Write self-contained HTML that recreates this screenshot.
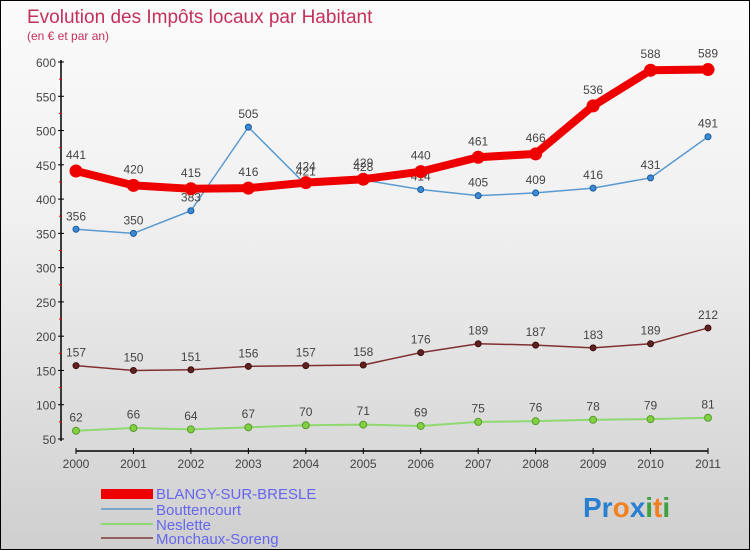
<!DOCTYPE html>
<html><head><meta charset="utf-8"><style>
body{margin:0;}
#c{width:748px;height:548px;border:1px solid #000;background:linear-gradient(#fbfbfb,#f0f0f0 40%,#cfcfcf);position:relative;overflow:hidden;font-family:"Liberation Sans",sans-serif;}
svg text{font-family:"Liberation Sans",sans-serif;}
</style></head><body>
<div id="c">
<svg id="s" width="748" height="548">
<text x="26" y="22" font-size="19" fill="#c4305a">Evolution des Impôts locaux par Habitant</text>
<text x="26" y="39" font-size="12" fill="#c4305a">(en € et par an)</text>
<g id="g"></g>
<g>
<rect x="100" y="488" width="52" height="10" fill="#e00"/>
<text x="155" y="498" font-size="15" fill="#6666ee">BLANGY-SUR-BRESLE</text>
<line x1="100" y1="508" x2="152" y2="508" stroke="#7aa6cc" stroke-width="2"/>
<text x="155" y="514" font-size="15" fill="#6666ee">Bouttencourt</text>
<line x1="100" y1="523" x2="152" y2="523" stroke="#90d870" stroke-width="2"/>
<text x="155" y="529" font-size="15" fill="#6666ee">Neslette</text>
<line x1="100" y1="537" x2="152" y2="537" stroke="#906060" stroke-width="2"/>
<text x="155" y="543" font-size="15" fill="#6666ee">Monchaux-Soreng</text>
</g>
<text x="582" y="516" font-size="28" font-weight="bold"><tspan fill="#2a7fd0">Pr</tspan><tspan fill="#f08020">o</tspan><tspan fill="#2a7fd0">x</tspan><tspan fill="#40a040">i</tspan><tspan fill="#f08020">t</tspan><tspan fill="#40a040">i</tspan></text>
</svg>
</div>
<script>
const years=[2000,2001,2002,2003,2004,2005,2006,2007,2008,2009,2010,2011];
const blangy=[441,420,415,416,424,429,440,461,466,536,588,589];
const bouttencourt=[356,350,383,505,421,428,414,405,409,416,431,491];
const neslette=[62,66,64,67,70,71,69,75,76,78,79,81];
const monchaux=[157,150,151,156,157,158,176,189,187,183,189,212];
const yTicks=[50,100,150,200,250,300,350,400,450,500,550,600];
const NS="http://www.w3.org/2000/svg";
const g=document.getElementById('g');
const X=i=>75+i*(632/11);
const Y=v=>438-(v-50)*(377/550);
function el(t,a,name){const e=document.createElementNS(NS,t);for(const k in a)e.setAttribute(k,a[k]);


g.appendChild(e);return e;}
el('line',{x1:60,y1:Y(600)-2,x2:60,y2:Y(50)+2,stroke:'#000','stroke-width':1.5},'y-axis');
el('line',{x1:75,y1:450,x2:707,y2:450,stroke:'#000','stroke-width':1.5},'x-axis');
yTicks.forEach(v=>{el('line',{x1:57,y1:Y(v),x2:63,y2:Y(v),stroke:'#000'},'y-tick');
const t=el('text',{x:55,y:Y(v)+5,'font-size':12,fill:'#444','text-anchor':'end'},'y-tick-label');t.textContent=v;
if(v<600)el('line',{x1:58,y1:Y(v+25),x2:61,y2:Y(v+25),stroke:'#e00'},'y-minor-tick');});
years.forEach((y,i)=>{el('line',{x1:X(i),y1:447,x2:X(i),y2:453,stroke:'#000'},'x-tick');
const t=el('text',{x:X(i),y:467,'font-size':12,fill:'#444','text-anchor':'middle'},'x-tick-label');t.textContent=y;});
function series(d,name,color,w,r,dot,stroke){
el('polyline',{points:d.map((v,i)=>X(i)+','+Y(v)).join(' '),fill:'none',stroke:color,'stroke-width':w,'stroke-linejoin':'round'},name+'-line');
d.forEach((v,i)=>{el('circle',{cx:X(i),cy:Y(v),r:r,fill:dot,stroke:stroke,'stroke-width':1},name+'-point');
const t=el('text',{x:X(i),y:Y(v)-(r+6),'font-size':12,fill:'#444','text-anchor':'middle'},name+'-value-label');t.textContent=v;});}
series(neslette,'neslette','#90d870',2,3.5,'#80d040','#5a9a30');
series(monchaux,'monchaux','#803030',1.5,3,'#602020','#401010');
series(bouttencourt,'bouttencourt','#5a9ad0',1.5,3,'#3a8ad8','#1a5a98');
series(blangy,'blangy','#ee0000',8,6,'#ee0000','#ee0000');
</script>
</body></html>
